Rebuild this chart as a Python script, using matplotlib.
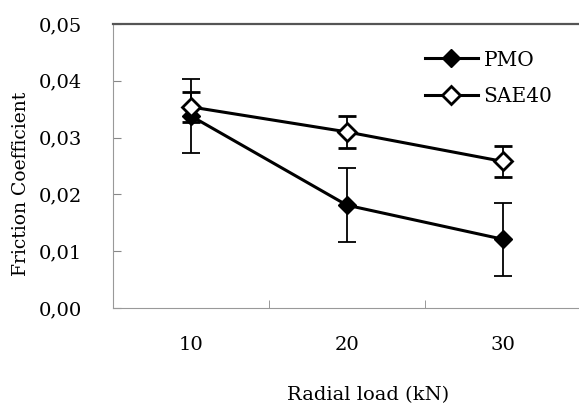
import numpy as np
import matplotlib
matplotlib.use('Agg')
import matplotlib.pyplot as plt
from matplotlib.lines import Line2D

plt.rcParams['font.family'] = 'DejaVu Serif'

loads = ['10', '20', '30']
pmo = [0.0338, 0.0181, 0.0121]
pmo_err = [0.0065, 0.0065, 0.0064]
sae40 = [0.0354, 0.0310, 0.0258]
sae40_err = [0.0027, 0.0028, 0.0027]

x = np.arange(len(loads))

fig = plt.figure(figsize=(5.79, 4.07), dpi=100)
ax = fig.add_axes([0.1952, 0.2432, 0.8083, 0.6978])

ax.errorbar(x, pmo, yerr=pmo_err, color='black', lw=2.2, marker='D', ms=9.5,
            mfc='black', mec='black', ecolor='black', elinewidth=1.3,
            capsize=6.5, capthick=1.3)
ax.errorbar(x, sae40, yerr=sae40_err, color='black', lw=2.2, marker='D', ms=9.5,
            mfc='white', mec='black', mew=2, ecolor='black', elinewidth=1.3,
            capsize=6.5, capthick=1.3)

ax.set_xlim(-0.5, 2.5)
ax.set_ylim(0, 0.05)
yt = np.arange(0, 0.051, 0.01)
ax.set_yticks(yt)
ax.set_yticklabels([f'{v:.2f}'.replace('.', ',') for v in yt], fontsize=14)
ax.set_xticks(x)
ax.set_xticklabels(loads, fontsize=14)
ax.set_xticks([0.5, 1.5], minor=True)
ax.tick_params(axis='x', which='major', length=0, pad=20)
ax.tick_params(axis='x', which='minor', direction='in', length=6, color='#888888')
ax.tick_params(axis='y', direction='in', length=6, color='#888888', pad=22)

ax.spines['right'].set_visible(False)
ax.spines['left'].set_color('#999999')
ax.spines['bottom'].set_color('#999999')
ax.spines['top'].set_color('#555555')
ax.spines['top'].set_linewidth(1.6)

ax.set_xlabel('Radial load (kN)', fontsize=14)
ax.xaxis.set_label_coords(0.545, -0.275)
ax.set_ylabel('Friction Coefficient', fontsize=13.5)
ax.yaxis.set_label_coords(-0.178, 0.437)

handles = [
    Line2D([], [], color='black', lw=2.2, marker='D', ms=9.5, mfc='black', mec='black'),
    Line2D([], [], color='black', lw=2.2, marker='D', ms=9.5, mfc='white', mec='black', mew=2),
]
ax.legend(handles, ['PMO', 'SAE40'], loc='upper left', bbox_to_anchor=(0.65, 0.935),
          frameon=False, fontsize=14.5, handlelength=2.6, handletextpad=0.3,
          labelspacing=0.85, borderaxespad=0)

plt.savefig('out.png', dpi=100)
